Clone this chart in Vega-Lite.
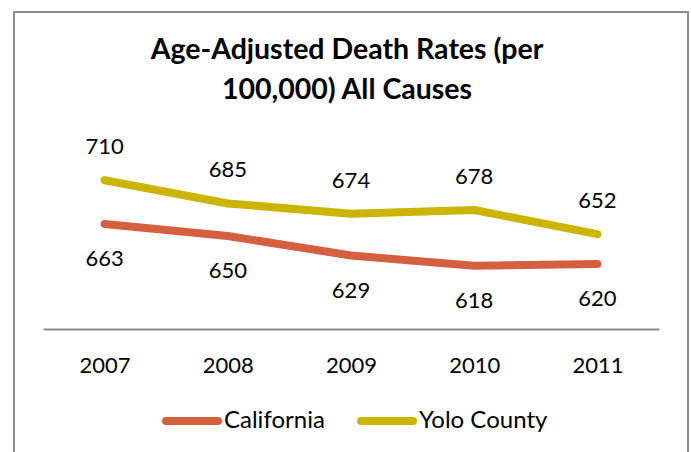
{
  "$schema": "https://vega.github.io/schema/vega-lite/v6.json",
  "width": 674,
  "height": 450,
  "padding": {"left": 14, "top": 12, "right": 3, "bottom": 0},
  "autosize": {"type": "none"},
  "background": "white",
  "config": {"view": {"stroke": "#8c8c8c", "strokeWidth": 2}, "font": "Lato"},
  "title": {
    "text": ["Age-Adjusted Death Rates (per", "100,000) All Causes"],
    "anchor": "middle",
    "frame": "group",
    "fontSize": 28.5,
    "fontWeight": "bold",
    "font": "Lato",
    "color": "black",
    "lineHeight": 40,
    "baseline": "top",
    "offset": -92,
    "dx": -4
  },
  "data": {
    "values": [
      {"year": "2007", "region": "California", "rate": 663},
      {"year": "2008", "region": "California", "rate": 650},
      {"year": "2009", "region": "California", "rate": 629},
      {"year": "2010", "region": "California", "rate": 618},
      {"year": "2011", "region": "California", "rate": 620},
      {"year": "2007", "region": "Yolo County", "rate": 710},
      {"year": "2008", "region": "Yolo County", "rate": 685},
      {"year": "2009", "region": "Yolo County", "rate": 674},
      {"year": "2010", "region": "Yolo County", "rate": 678},
      {"year": "2011", "region": "Yolo County", "rate": 652}
    ]
  },
  "encoding": {
    "x": {
      "field": "year",
      "type": "ordinal",
      "scale": {"type": "point", "range": [29, 645], "padding": 0.5},
      "axis": {
        "orient": "bottom",
        "offset": -133,
        "domainColor": "#8c8c8c",
        "domainWidth": 2,
        "ticks": false,
        "tickSize": 0,
        "labelFontSize": 22,
        "labelFont": "Lato",
        "labelColor": "black",
        "labelPadding": 36,
        "labelBaseline": "middle",
        "labelAngle": 0,
        "title": null,
        "grid": false
      }
    },
    "y": {
      "field": "rate",
      "type": "quantitative",
      "scale": {"domain": [550, 750], "range": [317, 131], "zero": false},
      "axis": null
    }
  },
  "layer": [
    {
      "mark": {"type": "line", "strokeWidth": 8, "strokeCap": "round", "strokeJoin": "round"},
      "encoding": {
        "color": {
          "field": "region",
          "type": "nominal",
          "scale": {"domain": ["California", "Yolo County"], "range": ["#D5603F", "#CCB400"]},
          "legend": {
            "orient": "none",
            "legendX": 148,
            "legendY": 379,
            "direction": "horizontal",
            "title": null,
            "symbolType": "stroke",
            "symbolSize": 2704,
            "symbolStrokeWidth": 8,
            "labelFontSize": 24,
            "labelFont": "Lato",
            "labelColor": "black",
            "labelOffset": 2,
            "columnPadding": 20,
            "labelLimit": 300,
            "padding": 0,
            "encode": {"symbols": {"update": {"strokeCap": {"value": "round"}}}}
          }
        }
      }
    },
    {
      "transform": [{"filter": "datum.region === 'Yolo County'"}],
      "mark": {"type": "text", "dy": -33, "fontSize": 22, "font": "Lato", "color": "black"},
      "encoding": {"text": {"field": "rate", "type": "quantitative"}}
    },
    {
      "transform": [{"filter": "datum.region === 'California'"}],
      "mark": {"type": "text", "dy": 35, "fontSize": 22, "font": "Lato", "color": "black"},
      "encoding": {"text": {"field": "rate", "type": "quantitative"}}
    }
  ]
}
